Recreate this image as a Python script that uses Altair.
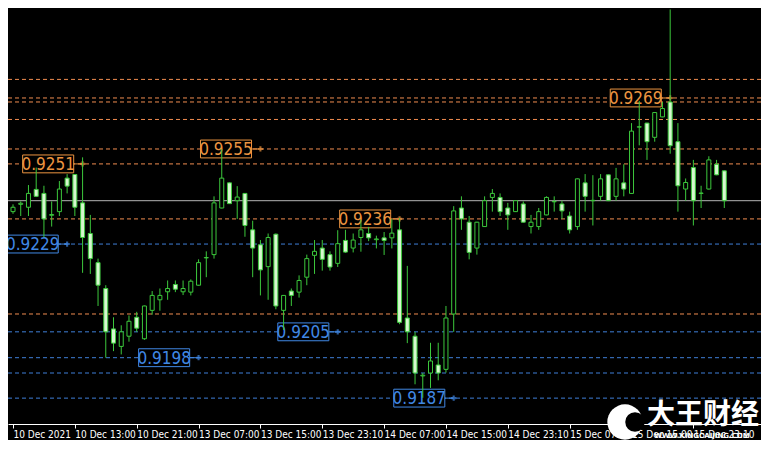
import altair as alt
import pandas as pd

# ---------------- data ----------------
bar_index = list(range(93))
opens = [0.92381, 0.92401, 0.92393, 0.92442, 0.92431, 0.92371, 0.92381, 0.92473, 0.92483, 0.92405,
         0.92321, 0.92241, 0.92170, 0.92059, 0.92011, 0.92039, 0.92091, 0.92032, 0.92110, 0.92139,
         0.92161, 0.92181, 0.92161, 0.92160, 0.92179, 0.92254, 0.92263, 0.92391, 0.92460, 0.92411,
         0.92431, 0.92331, 0.92290, 0.92230, 0.92319, 0.92110, 0.92163, 0.92160, 0.92201, 0.92261,
         0.92281, 0.92263, 0.92239, 0.92302, 0.92281, 0.92310, 0.92321, 0.92304, 0.92309, 0.92309,
         0.92331, 0.92089, 0.92039, 0.91930, 0.91938, 0.91960, 0.91948, 0.92100, 0.92391, 0.92352,
         0.92281, 0.92340, 0.92420, 0.92420, 0.92391, 0.92381, 0.92402, 0.92340, 0.92340, 0.92372,
         0.92408, 0.92402, 0.92369, 0.92340, 0.92460, 0.92411, 0.92423, 0.92482, 0.92423, 0.92460,
         0.92431, 0.92613, 0.92624, 0.92585, 0.92641, 0.92682, 0.92573, 0.92443, 0.92502, 0.92431,
         0.92443, 0.92511, 0.92493]
highs = [0.92401, 0.92409, 0.92454, 0.92502, 0.92452, 0.92409, 0.92465, 0.92484, 0.92484, 0.92530,
         0.92372, 0.92252, 0.92179, 0.92091, 0.92069, 0.92096, 0.92106, 0.92123, 0.92163, 0.92170,
         0.92192, 0.92192, 0.92192, 0.92195, 0.92250, 0.92272, 0.92423, 0.92553, 0.92461, 0.92451,
         0.92432, 0.92356, 0.92303, 0.92321, 0.92321, 0.92152, 0.92170, 0.92206, 0.92263, 0.92303,
         0.92303, 0.92272, 0.92330, 0.92331, 0.92321, 0.92359, 0.92339, 0.92315, 0.92325, 0.92361,
         0.92363, 0.92232, 0.92051, 0.91938, 0.92021, 0.92021, 0.92122, 0.92396, 0.92423, 0.92369,
         0.92353, 0.92423, 0.92443, 0.92431, 0.92405, 0.92412, 0.92409, 0.92372, 0.92391, 0.92423,
         0.92423, 0.92411, 0.92381, 0.92472, 0.92484, 0.92481, 0.92484, 0.92483, 0.92501, 0.92511,
         0.92624, 0.92685, 0.92625, 0.92654, 0.92682, 0.92936, 0.92624, 0.92472, 0.92523, 0.92452,
         0.92533, 0.92523, 0.92494]
lows = [0.92375, 0.92369, 0.92369, 0.92421, 0.92311, 0.92340, 0.92369, 0.92431, 0.92369, 0.92213,
        0.92210, 0.92122, 0.91980, 0.91998, 0.91989, 0.92024, 0.92051, 0.92029, 0.92098, 0.92109,
        0.92139, 0.92160, 0.92152, 0.92151, 0.92178, 0.92201, 0.92252, 0.92390, 0.92402, 0.92361,
        0.92312, 0.92201, 0.92151, 0.92139, 0.92113, 0.92056, 0.92122, 0.92145, 0.92179, 0.92210,
        0.92219, 0.92219, 0.92229, 0.92268, 0.92269, 0.92271, 0.92300, 0.92280, 0.92262, 0.92280,
        0.92072, 0.92020, 0.91907, 0.91870, 0.91897, 0.91918, 0.91939, 0.92051, 0.92331, 0.92250,
        0.92263, 0.92339, 0.92381, 0.92369, 0.92331, 0.92380, 0.92351, 0.92321, 0.92331, 0.92371,
        0.92381, 0.92361, 0.92321, 0.92331, 0.92381, 0.92343, 0.92411, 0.92410, 0.92411, 0.92423,
        0.92430, 0.92563, 0.92523, 0.92573, 0.92640, 0.92540, 0.92381, 0.92411, 0.92343, 0.92391,
        0.92442, 0.92481, 0.92391]
closes = [0.92393, 0.92404, 0.92431, 0.92423, 0.92361, 0.92373, 0.92443, 0.92451, 0.92393, 0.92310,
          0.92252, 0.92179, 0.92051, 0.92020, 0.92051, 0.92080, 0.92061, 0.92122, 0.92151, 0.92151,
          0.92170, 0.92168, 0.92170, 0.92190, 0.92241, 0.92255, 0.92405, 0.92473, 0.92403, 0.92421,
          0.92343, 0.92281, 0.92221, 0.92310, 0.92122, 0.92151, 0.92151, 0.92192, 0.92252, 0.92272,
          0.92250, 0.92229, 0.92293, 0.92270, 0.92303, 0.92331, 0.92309, 0.92306, 0.92302, 0.92322,
          0.92077, 0.92051, 0.91938, 0.91932, 0.91971, 0.91938, 0.92089, 0.92383, 0.92361, 0.92269,
          0.92352, 0.92411, 0.92431, 0.92381, 0.92372, 0.92411, 0.92352, 0.92352, 0.92381, 0.92420,
          0.92409, 0.92383, 0.92331, 0.92471, 0.92423, 0.92412, 0.92471, 0.92411, 0.92471, 0.92443,
          0.92602, 0.92614, 0.92573, 0.92653, 0.92664, 0.92562, 0.92452, 0.92461, 0.92411, 0.92432,
          0.92523, 0.92482, 0.92411]

tick_bars = [0, 8, 16, 24, 32, 40, 48, 56, 64, 72, 80, 88]
tick_labels = ["10 Dec 2021", "10 Dec 13:00", "10 Dec 21:00", "13 Dec 07:00", "13 Dec 15:00",
               "13 Dec 23:10", "14 Dec 07:00", "14 Dec 15:00", "14 Dec 23:10", "15 Dec 07:00",
               "15 Dec 15:00", "15 Dec 23:10"]

resistance_levels = [0.92744, 0.92693, 0.92682, 0.92634, 0.92553, 0.92512, 0.92361, 0.92100]
support_levels = [0.92292, 0.92051, 0.91980, 0.91938, 0.91869]

label_texts = ["0.9251", "0.9255", "0.9236", "0.9269", "0.9229", "0.9205", "0.9198", "0.9187"]
label_prices = [0.92512, 0.92553, 0.92361, 0.92693, 0.92292, 0.92051, 0.91980, 0.91869]
label_bars = [9, 32, 50, 85, 7, 42, 24, 57]
label_kinds = ["high", "high", "high", "high", "low", "low", "low", "low"]

# ---------------- styling ----------------
GREEN = "#3cc83c"
BEAR_FILL = "#d6f7cf"
ORANGE_LINE = "#f08c50"
ORANGE_TEXT = "#ec9440"
BLUE_LINE = "#3f7fd8"
BLUE_TEXT = "#4088e4"
NARROW = "Liberation Sans Narrow, DejaVu Sans Condensed, Liberation Sans, sans-serif"

candles = pd.DataFrame({"i": bar_index, "o": opens, "h": highs, "l": lows, "c": closes})
candles["b0"] = candles[["o", "c"]].min(axis=1)
candles["b1"] = candles[["o", "c"]].max(axis=1)
candles["fill"] = ["#000000" if c >= o else BEAR_FILL for o, c in zip(opens, closes)]

levels = pd.DataFrame({
    "p": resistance_levels + support_levels,
    "col": [ORANGE_LINE] * len(resistance_levels) + [BLUE_LINE] * len(support_levels),
})

labels = pd.DataFrame({"t": label_texts, "p": label_prices, "bar": label_bars, "k": label_kinds})
labels["bl"] = labels["bar"] - 7.75
labels["br"] = labels["bar"] - 1.15
labels["bc"] = (labels["bl"] + labels["br"]) / 2
labels["p0"] = labels["p"] - 0.000245
labels["p1"] = labels["p"] + 0.000245
labels["tc"] = [ORANGE_TEXT if k == "high" else BLUE_TEXT for k in label_kinds]

last = pd.DataFrame({"p": [closes[-1]]})

xs = alt.Scale(domain=[0, 96.1], nice=False, zero=False)
ys = alt.Scale(domain=[0.91798, 0.92940], nice=False, zero=False)

label_expr = "[" + ",".join("'" + t + "'" for t in tick_labels) + "][round(datum.value / 8)]"
x_axis = alt.Axis(values=tick_bars, labelExpr=label_expr, title=None, grid=False,
                  domainColor="#ffffff", domainWidth=1, tickColor="#ffffff", tickSize=4,
                  tickWidth=1, labelColor="#ffffff", labelFont=NARROW, labelFontSize=10,
                  labelAlign="left", labelBaseline="top", labelPadding=1, labelOverlap=False,
                  labelBound=False, labelFlush=False)


def X(field):
    return alt.X(field, type="quantitative", scale=xs, axis=x_axis)


def Y(field):
    return alt.Y(field, type="quantitative", scale=ys, axis=None)


level_layer = alt.Chart(levels).mark_rule(strokeDash=[4, 3], strokeWidth=1).encode(
    y=Y("p"), color=alt.Color("col:N", scale=None))

last_layer = alt.Chart(last).mark_rule(color="#b4b4b4", strokeWidth=1).encode(y=Y("p"))

box_layer = alt.Chart(labels).mark_rect(fill="#000000", strokeWidth=1).encode(
    x=X("bl"), x2="br", y=Y("p0"), y2="p1", stroke=alt.Stroke("tc:N", scale=None))

conn_layer = alt.Chart(labels).mark_rule(strokeWidth=1).encode(
    x=X("br"), x2="bar", y=Y("p"), color=alt.Color("tc:N", scale=None))

text_layer = alt.Chart(labels).mark_text(font=NARROW, fontSize=17, align="center",
                                         baseline="middle", dy=1).encode(
    x=X("bc"), y=Y("p"), text="t:N", color=alt.Color("tc:N", scale=None))

arrow_layer = alt.Chart(labels).mark_point(shape="cross", filled=True, size=28).encode(
    x=X("bar"), y=Y("p"), color=alt.Color("tc:N", scale=None))

wick_layer = alt.Chart(candles).mark_rule(color=GREEN, strokeWidth=1).encode(
    x=X("i"), y=Y("l"), y2="h")

body_layer = alt.Chart(candles).mark_bar(size=4, stroke=GREEN, strokeWidth=1).encode(
    x=X("i"), y=Y("b0"), y2="b1", fill=alt.Fill("fill:N", scale=None))

# watermark (decoration, pixel placed)
wm_circle = alt.Chart(last).mark_point(shape="circle", filled=True, size=1250, color="#ffffff",
                                       opacity=1).encode(x=alt.value(617), y=alt.value(414))
wm_hole = alt.Chart(last).mark_point(shape="circle", filled=True, size=380, color="#000000",
                                     opacity=1).encode(x=alt.value(627), y=alt.value(414))
wm_text = alt.Chart(last).mark_text(text="大王财经", font="Noto Sans CJK SC", fontWeight="bold",
                                    fontSize=28, color="#ffffff", align="center",
                                    baseline="middle").encode(x=alt.value(695), y=alt.value(408))
wm_url = alt.Chart(last).mark_text(text="WWW.KINGCAIJING.COM", font="DejaVu Sans", fontWeight="bold",
                                   fontSize=7, color="#ffffff", align="center",
                                   baseline="middle").encode(x=alt.value(694), y=alt.value(428))

chart = alt.layer(
    level_layer, last_layer, box_layer, conn_layer, text_layer, arrow_layer,
    wick_layer, body_layer, wm_circle, wm_hole, wm_text, wm_url,
).properties(
    width=753, height=416,
    autosize=alt.AutoSizeParams(type="none"),
    padding={"left": 0, "top": 0, "right": 0, "bottom": 16},
    background="#000000",
).configure_view(strokeWidth=0)

chart.save("out.html", embed_options={"renderer": "svg", "actions": False})
